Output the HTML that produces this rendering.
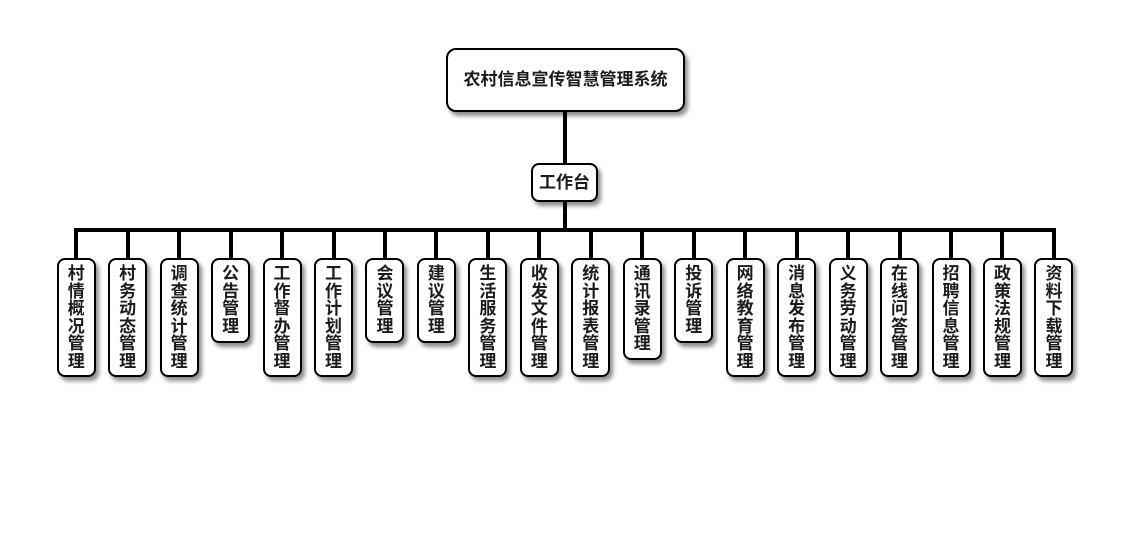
<!DOCTYPE html>
<html>
<head>
<meta charset="utf-8">
<style>
html,body{margin:0;padding:0;background:#fff;}
body{width:1130px;height:560px;position:relative;overflow:hidden;font-family:"Liberation Sans","Noto Sans CJK SC",sans-serif;font-weight:bold;color:#1c1c1c;}
.box{position:absolute;box-sizing:border-box;border:2px solid #000;background:#fff;box-shadow:3px 4px 4px rgba(0,0,0,0.45);text-align:center;}
.top{left:446px;top:48px;width:239px;height:64px;border-radius:10px;font-size:17px;line-height:60px;}
.mid{left:531px;top:163px;width:67px;height:39px;border-radius:8px;font-size:17px;line-height:35px;}
.leaf{top:258px;width:39px;border-radius:8px;font-size:17px;line-height:17.5px;padding-top:5px;}
.ln{position:absolute;background:#000;}
.v{top:228px;width:4px;height:30px;}
</style>
</head>
<body>
<div class="ln" style="left:563px;top:112px;width:4px;height:51px;"></div>
<div class="ln" style="left:563px;top:202px;width:4px;height:27px;"></div>
<div class="ln" style="left:74px;top:228px;width:982px;height:4px;"></div>

<div class="ln v" style="left:74.2px"></div>
<div class="ln v" style="left:125.66px"></div>
<div class="ln v" style="left:177.12px"></div>
<div class="ln v" style="left:228.58px"></div>
<div class="ln v" style="left:280.04px"></div>
<div class="ln v" style="left:331.5px"></div>
<div class="ln v" style="left:382.96px"></div>
<div class="ln v" style="left:434.42px"></div>
<div class="ln v" style="left:485.88px"></div>
<div class="ln v" style="left:537.34px"></div>
<div class="ln v" style="left:588.8px"></div>
<div class="ln v" style="left:640.26px"></div>
<div class="ln v" style="left:691.72px"></div>
<div class="ln v" style="left:743.18px"></div>
<div class="ln v" style="left:794.64px"></div>
<div class="ln v" style="left:846.1px"></div>
<div class="ln v" style="left:897.56px"></div>
<div class="ln v" style="left:949.02px"></div>
<div class="ln v" style="left:1000.48px"></div>
<div class="ln v" style="left:1051.94px"></div>

<div class="box top">农村信息宣传智慧管理系统</div>
<div class="box mid">工作台</div>

<div class="box leaf" style="left:56.7px;height:119px;">村<br>情<br>概<br>况<br>管<br>理</div>
<div class="box leaf" style="left:108.16px;height:119px;">村<br>务<br>动<br>态<br>管<br>理</div>
<div class="box leaf" style="left:159.62px;height:119px;">调<br>查<br>统<br>计<br>管<br>理</div>
<div class="box leaf" style="left:211.08px;height:85px;">公<br>告<br>管<br>理</div>
<div class="box leaf" style="left:262.54px;height:119px;">工<br>作<br>督<br>办<br>管<br>理</div>
<div class="box leaf" style="left:314px;height:119px;">工<br>作<br>计<br>划<br>管<br>理</div>
<div class="box leaf" style="left:365.46px;height:85px;">会<br>议<br>管<br>理</div>
<div class="box leaf" style="left:416.92px;height:85px;">建<br>议<br>管<br>理</div>
<div class="box leaf" style="left:468.38px;height:119px;">生<br>活<br>服<br>务<br>管<br>理</div>
<div class="box leaf" style="left:519.84px;height:119px;">收<br>发<br>文<br>件<br>管<br>理</div>
<div class="box leaf" style="left:571.3px;height:119px;">统<br>计<br>报<br>表<br>管<br>理</div>
<div class="box leaf" style="left:622.76px;height:102px;">通<br>讯<br>录<br>管<br>理</div>
<div class="box leaf" style="left:674.22px;height:85px;">投<br>诉<br>管<br>理</div>
<div class="box leaf" style="left:725.68px;height:119px;">网<br>络<br>教<br>育<br>管<br>理</div>
<div class="box leaf" style="left:777.14px;height:119px;">消<br>息<br>发<br>布<br>管<br>理</div>
<div class="box leaf" style="left:828.6px;height:119px;">义<br>务<br>劳<br>动<br>管<br>理</div>
<div class="box leaf" style="left:880.06px;height:119px;">在<br>线<br>问<br>答<br>管<br>理</div>
<div class="box leaf" style="left:931.52px;height:119px;">招<br>聘<br>信<br>息<br>管<br>理</div>
<div class="box leaf" style="left:982.98px;height:119px;">政<br>策<br>法<br>规<br>管<br>理</div>
<div class="box leaf" style="left:1034.44px;height:119px;">资<br>料<br>下<br>载<br>管<br>理</div>
</body>
</html>
